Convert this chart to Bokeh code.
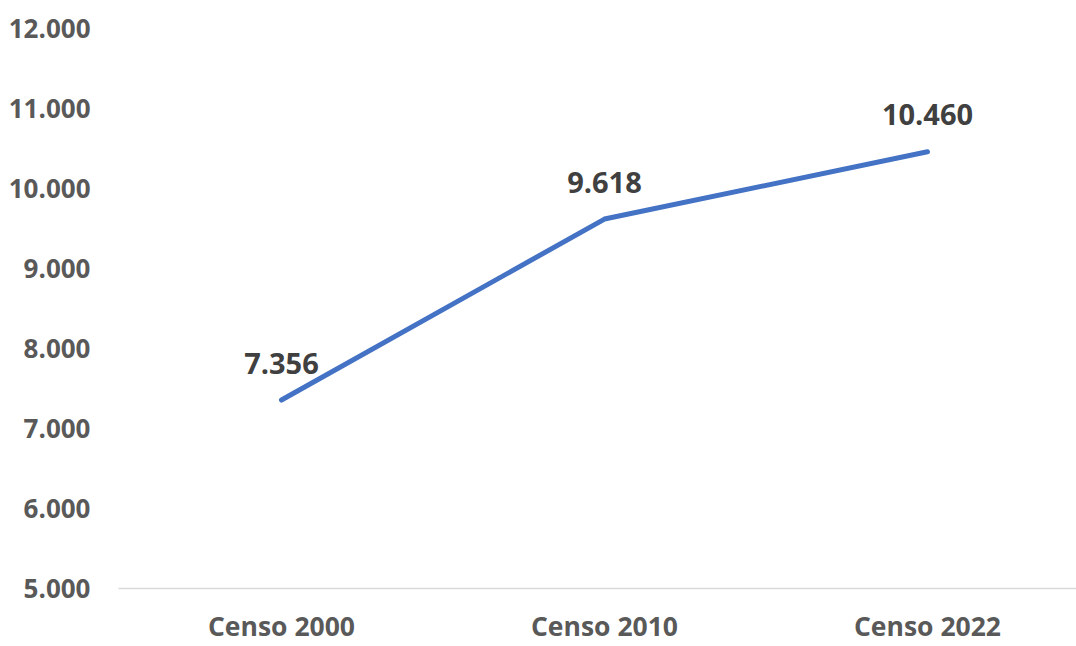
from bokeh.plotting import figure
from bokeh.models import ColumnDataSource, Range1d, FixedTicker, LabelSet
from bokeh.core.properties import value
from bokeh.embed import file_html
from bokeh.resources import INLINE

categories = ["Censo 2000", "Censo 2010", "Censo 2022"]
values = [7356, 9618, 10460]
value_labels = ["7.356", "9.618", "10.460"]
y_ticks = [5000, 6000, 7000, 8000, 9000, 10000, 11000, 12000]
y_tick_labels = ["5.000", "6.000", "7.000", "8.000", "9.000", "10.000", "11.000", "12.000"]

xs = list(range(len(categories)))
src = ColumnDataSource(dict(x=xs, y=values, lab=value_labels))

p = figure(width=1076, height=646, output_backend="svg", toolbar_location=None,
           x_range=Range1d(-0.5046, 2.4613), y_range=Range1d(5000, 12000),
           min_border_left=118, min_border_right=0, min_border_top=28, min_border_bottom=55)
p.outline_line_color = None
p.xgrid.visible = False
p.ygrid.visible = False

p.line("x", "y", source=src, line_color="#4472C4", line_width=5,
       line_join="round", line_cap="round")

labels = LabelSet(x="x", y="y", text="lab", source=src, y_offset=37,
                  text_align="center", text_baseline="middle",
                  text_font=value("Open Sans"), text_font_style="bold",
                  text_font_size="29px", text_color="#404040")
p.add_layout(labels)

p.xaxis.ticker = FixedTicker(ticks=xs)
p.xaxis.major_label_overrides = {i: c for i, c in zip(xs, categories)}
p.xaxis.axis_line_color = "#D9D9D9"
p.xaxis.axis_line_width = 1.5
p.xaxis.major_tick_line_color = None
p.xaxis.minor_tick_line_color = None
p.xaxis.major_tick_out = 0
p.xaxis.major_tick_in = 0
p.xaxis.minor_tick_out = 0
p.xaxis.major_label_standoff = 19
p.xaxis.major_label_text_font = "Open Sans"
p.xaxis.major_label_text_font_style = "bold"
p.xaxis.major_label_text_font_size = "26.5px"
p.xaxis.major_label_text_color = "#595959"

p.yaxis.ticker = FixedTicker(ticks=y_ticks)
p.yaxis.major_label_overrides = {t: l for t, l in zip(y_ticks, y_tick_labels)}
p.yaxis.axis_line_color = None
p.yaxis.major_tick_line_color = None
p.yaxis.minor_tick_line_color = None
p.yaxis.major_tick_out = 0
p.yaxis.major_tick_in = 0
p.yaxis.minor_tick_out = 0
p.yaxis.major_label_standoff = 28
p.yaxis.major_label_text_font = "Open Sans"
p.yaxis.major_label_text_font_style = "bold"
p.yaxis.major_label_text_font_size = "26px"
p.yaxis.major_label_text_color = "#595959"

open("out.html", "w").write(file_html(p, INLINE))
